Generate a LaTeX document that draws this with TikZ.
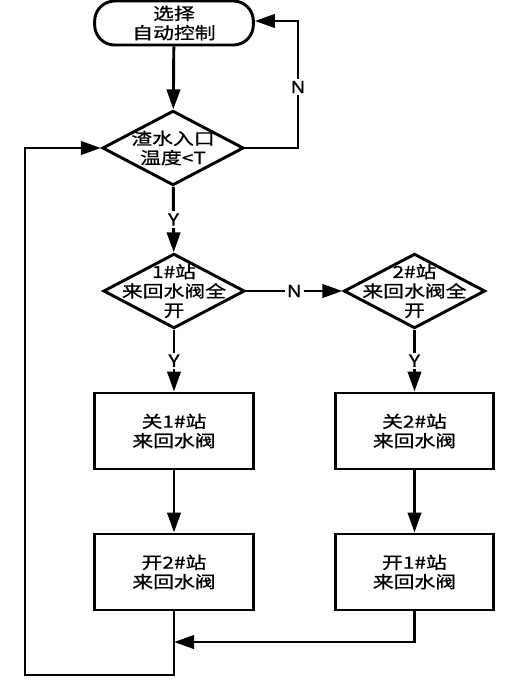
\documentclass[tikz,border=0pt]{standalone}
\usepackage{fontspec}
\usetikzlibrary{shapes.geometric}
\usetikzlibrary{arrows.meta}
\newfontfamily\cjk[FakeStretch=1.25,FakeBold=0.8]{Noto Sans CJK SC}

\begin{document}
\begin{tikzpicture}[x=0.75pt,y=0.75pt,yscale=-1,xscale=1,
  every node/.style={font=\cjk\fontsize{12.5}{14.5}\selectfont, align=center},
  flow/.style={line width=2.2pt, -{Triangle[length=15pt,width=10pt]}},
  proc/.style={draw, line width=2.2pt, minimum width=119pt, minimum height=57pt, inner sep=0pt},
  decide/.style={draw, diamond, line width=2.2pt, minimum width=106pt, minimum height=56pt, inner sep=0pt},
  yn/.style={fill=white, inner sep=1.5pt, font=\cjk\fontsize{12.5}{14}\selectfont}]
\useasboundingbox (0,0) rectangle (507,682);

% Start
\node [proc, rounded corners=15pt, minimum height=33pt] (start) at (174,23) {选择\\自动控制};
% Decisions
\node [decide, label={center:{渣水入口\\温度<T}}] (d1) at (173,148) {};
\node [decide, label={center:{1\#站\\来回水阀全\\开}}] (d2) at (174,291) {};
\node [decide, label={center:{2\#站\\来回水阀全\\开}}] (d3) at (414.5,291) {};
% Actions
\node [proc] (b1) at (174,431) {关1\#站\\来回水阀};
\node [proc] (b2) at (174,572) {开2\#站\\来回水阀};
\node [proc] (b3) at (414.5,431) {关2\#站\\来回水阀};
\node [proc] (b4) at (414.5,572) {开1\#站\\来回水阀};

% Corner points
\coordinate (nTop) at (298,21);
\coordinate (join) at (174,642);
\coordinate (loopL) at (25,675);

% Connectors
\draw [flow] (start) -- (d1);
\draw [flow] (d1.east) -| (nTop) node [yn, pos=0.74] {N} -- (start.east |- nTop);
\draw [flow] (d1) -- node [yn] {Y} (d2);
\draw [flow] (d2) -- node [yn] {N} (d3);
\draw [flow] (d2) -- node [yn] {Y} (b1);
\draw [flow] (d3) -- node [yn] {Y} (b3);
\draw [flow] (b1) -- (b2);
\draw [flow] (b3) -- (b4);
\draw [flow] (b4.south) |- (join);
\draw [flow] (b2.south) |- (loopL) |- (d1.west);

\end{tikzpicture}
\end{document}
